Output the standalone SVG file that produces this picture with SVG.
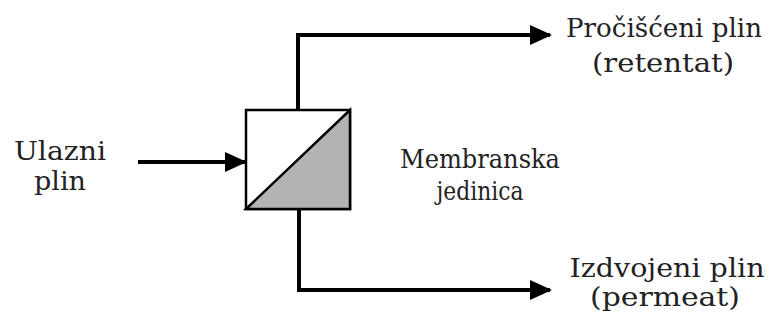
<svg xmlns="http://www.w3.org/2000/svg" width="779" height="320" viewBox="0 0 779 320">
<style>
.c{fill:none;stroke:#000;stroke-width:4}
text{font-family:"DejaVu Serif","Liberation Serif",serif;font-size:26px;fill:#222;text-anchor:middle}
</style>
<defs>
<marker id="ah" markerUnits="userSpaceOnUse" markerWidth="22" markerHeight="22" refX="20" refY="10" orient="auto" viewBox="0 0 22 20">
<path d="M0,0 L22,10 L0,20 Z" fill="#000"/>
</marker>
</defs>
<rect width="779" height="320" fill="#fff"/>
<g id="connectors">
<path class="c" d="M138,162 H245" marker-end="url(#ah)"/>
<path class="c" d="M298,110 V35 H550" marker-end="url(#ah)"/>
<path class="c" d="M299,209 V290 H550" marker-end="url(#ah)"/>
</g>
<g id="membrane">
<rect x="246" y="110" width="104" height="99" fill="#fff" stroke="#000" stroke-width="2.5"/>
<path d="M246,209 L350,110 L350,209 Z" fill="#b3b3b3" stroke="#000" stroke-width="2.5"/>
</g>
<g id="label-ulazni">
<text x="60" y="160" textLength="92" lengthAdjust="spacingAndGlyphs">Ulazni</text>
<text x="60" y="190" textLength="52" lengthAdjust="spacingAndGlyphs">plin</text>
</g>
<g id="label-membranska">
<text x="480" y="168" textLength="160" lengthAdjust="spacingAndGlyphs">Membranska</text>
<text x="480" y="200" textLength="87" lengthAdjust="spacingAndGlyphs">jedinica</text>
</g>
<g id="label-retentat">
<text x="664" y="37" textLength="196" lengthAdjust="spacingAndGlyphs">Pročišćeni plin</text>
<text x="663" y="72" textLength="142" lengthAdjust="spacingAndGlyphs">(retentat)</text>
</g>
<g id="label-permeat">
<text x="667" y="277" textLength="195" lengthAdjust="spacingAndGlyphs">Izdvojeni plin</text>
<text x="665" y="306" textLength="150" lengthAdjust="spacingAndGlyphs">(permeat)</text>
</g>
</svg>
